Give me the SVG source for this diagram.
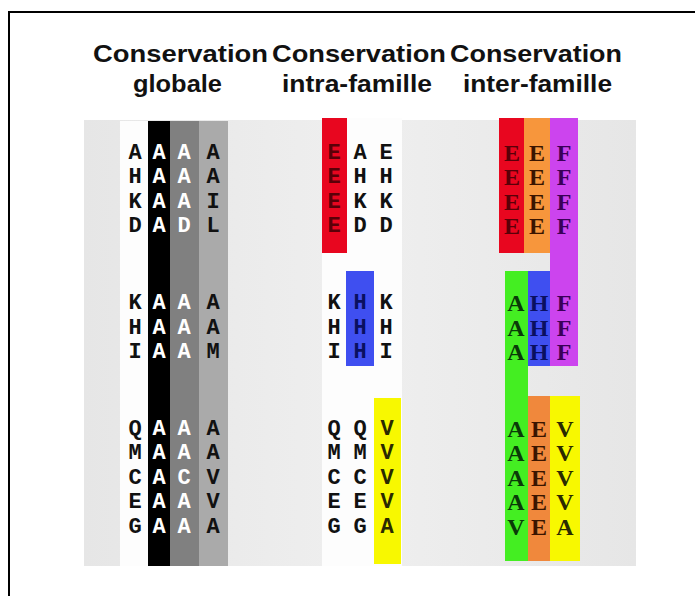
<svg xmlns="http://www.w3.org/2000/svg" width="695" height="596" viewBox="0 0 695 596">
  <style>
    .title { font-family: "Liberation Sans", Arial, sans-serif; font-weight: bold; font-size: 24px; fill: #111; }
    .mono { font-family: "Courier New", "Liberation Mono", monospace; font-weight: bold; font-size: 22px; text-anchor: middle; }
    .serif { font-family: "Liberation Serif", "Times New Roman", serif; font-weight: bold; font-size: 24px; text-anchor: middle; }
    .k { fill: #111; }
    .w { fill: #fff; }
  </style>
  <defs>
    <linearGradient id="panel" x1="0" y1="0" x2="1" y2="0">
      <stop offset="0" stop-color="#e6e6e6"/>
      <stop offset="0.5" stop-color="#efefef"/>
      <stop offset="1" stop-color="#e6e6e6"/>
    </linearGradient>
  </defs>

  <rect x="0" y="0" width="695" height="596" fill="#fff"/>
  <!-- frame -->
  <path d="M9 596 V12 H695" fill="none" stroke="#000" stroke-width="2"/>

  <!-- headings -->
  <g id="titles">
    <text class="title" x="93" y="62" textLength="175" lengthAdjust="spacingAndGlyphs">Conservation</text>
    <text class="title" x="272" y="62" textLength="174" lengthAdjust="spacingAndGlyphs">Conservation</text>
    <text class="title" x="450" y="62" textLength="172" lengthAdjust="spacingAndGlyphs">Conservation</text>
    <text class="title" x="133" y="92" textLength="89" lengthAdjust="spacingAndGlyphs">globale</text>
    <text class="title" x="282" y="92" textLength="150" lengthAdjust="spacingAndGlyphs">intra-famille</text>
    <text class="title" x="463" y="92" textLength="149" lengthAdjust="spacingAndGlyphs">inter-famille</text>
  </g>

  <!-- background panel -->
  <rect x="84" y="120" width="552" height="446" fill="url(#panel)"/>

  <!-- global conservation -->
  <g id="globale">
    <rect x="120" y="121" width="28" height="445" fill="#fdfdfd"/>
    <rect x="148" y="121" width="22" height="445" fill="#000"/>
    <rect x="170" y="121" width="29" height="445" fill="#808080"/>
    <rect x="199" y="121" width="29" height="445" fill="#aaaaaa"/>
    <g class="mono">
      <text class="k" x="135" y="159">A</text><text class="w" x="159" y="159">A</text><text class="w" x="184" y="159">A</text><text class="k" x="213" y="159">A</text>
      <text class="k" x="135" y="183">H</text><text class="w" x="159" y="183">A</text><text class="w" x="184" y="183">A</text><text class="k" x="213" y="183">A</text>
      <text class="k" x="135" y="208">K</text><text class="w" x="159" y="208">A</text><text class="w" x="184" y="208">A</text><text class="k" x="213" y="208">I</text>
      <text class="k" x="135" y="232">D</text><text class="w" x="159" y="232">A</text><text class="w" x="184" y="232">D</text><text class="k" x="213" y="232">L</text>
      <text class="k" x="135" y="309">K</text><text class="w" x="159" y="309">A</text><text class="w" x="184" y="309">A</text><text class="k" x="213" y="309">A</text>
      <text class="k" x="135" y="334">H</text><text class="w" x="159" y="334">A</text><text class="w" x="184" y="334">A</text><text class="k" x="213" y="334">A</text>
      <text class="k" x="135" y="358">I</text><text class="w" x="159" y="358">A</text><text class="w" x="184" y="358">A</text><text class="k" x="213" y="358">M</text>
      <text class="k" x="135" y="435">Q</text><text class="w" x="159" y="435">A</text><text class="w" x="184" y="435">A</text><text class="k" x="213" y="435">A</text>
      <text class="k" x="135" y="459">M</text><text class="w" x="159" y="459">A</text><text class="w" x="184" y="459">A</text><text class="k" x="213" y="459">A</text>
      <text class="k" x="135" y="484">C</text><text class="w" x="159" y="484">A</text><text class="w" x="184" y="484">C</text><text class="k" x="213" y="484">V</text>
      <text class="k" x="135" y="508">E</text><text class="w" x="159" y="508">A</text><text class="w" x="184" y="508">A</text><text class="k" x="213" y="508">V</text>
      <text class="k" x="135" y="533">G</text><text class="w" x="159" y="533">A</text><text class="w" x="184" y="533">A</text><text class="k" x="213" y="533">A</text>
    </g>
  </g>

  <!-- intra-family conservation -->
  <g id="intra">
    <rect x="322" y="118" width="80" height="448" fill="#fdfdfd"/>
    <rect x="322" y="118" width="25" height="135" fill="#e8061f"/>
    <rect x="346" y="271" width="28" height="95" fill="#3f4ff0"/>
    <rect x="374" y="398" width="27" height="166" fill="#f8f800"/>
    <g class="mono">
      <text fill="#5a0008" x="334" y="159">E</text><text class="k" x="360" y="159">A</text><text class="k" x="386" y="159">E</text>
      <text fill="#5a0008" x="334" y="183">E</text><text class="k" x="360" y="183">H</text><text class="k" x="386" y="183">H</text>
      <text fill="#5a0008" x="334" y="208">E</text><text class="k" x="360" y="208">K</text><text class="k" x="386" y="208">K</text>
      <text fill="#5a0008" x="334" y="232">E</text><text class="k" x="360" y="232">D</text><text class="k" x="386" y="232">D</text>
      <text class="k" x="334" y="309">K</text><text fill="#0a1060" x="360" y="309">H</text><text class="k" x="386" y="309">K</text>
      <text class="k" x="334" y="334">H</text><text fill="#0a1060" x="360" y="334">H</text><text class="k" x="386" y="334">H</text>
      <text class="k" x="334" y="358">I</text><text fill="#0a1060" x="360" y="358">H</text><text class="k" x="386" y="358">I</text>
      <text class="k" x="334" y="435">Q</text><text class="k" x="360" y="435">Q</text><text fill="#2a2a00" x="387" y="435">V</text>
      <text class="k" x="334" y="459">M</text><text class="k" x="360" y="459">M</text><text fill="#2a2a00" x="387" y="459">V</text>
      <text class="k" x="334" y="484">C</text><text class="k" x="360" y="484">C</text><text fill="#2a2a00" x="387" y="484">V</text>
      <text class="k" x="334" y="508">E</text><text class="k" x="360" y="508">E</text><text fill="#2a2a00" x="387" y="508">V</text>
      <text class="k" x="334" y="533">G</text><text class="k" x="360" y="533">G</text><text fill="#2a2a00" x="387" y="533">A</text>
    </g>
  </g>

  <!-- inter-family conservation -->
  <g id="inter">
    <rect x="499" y="118" width="25" height="135" fill="#e8061f"/>
    <rect x="524" y="118" width="26" height="135" fill="#f7963c"/>
    <rect x="550" y="118" width="28" height="248" fill="#cc44ee"/>
    <rect x="505" y="271" width="23" height="290" fill="#44ee22"/>
    <rect x="528" y="271" width="22" height="95" fill="#3f4ff0"/>
    <rect x="528" y="396" width="22" height="165" fill="#f0883c"/>
    <rect x="550" y="396" width="30" height="165" fill="#f8f800"/>
    <g class="serif">
      <text fill="#5a0008" x="512" y="161">E</text><text fill="#3a1500" x="537" y="161">E</text><text fill="#3a0058" x="564" y="161">F</text>
      <text fill="#5a0008" x="512" y="185">E</text><text fill="#3a1500" x="537" y="185">E</text><text fill="#3a0058" x="564" y="185">F</text>
      <text fill="#5a0008" x="512" y="210">E</text><text fill="#3a1500" x="537" y="210">E</text><text fill="#3a0058" x="564" y="210">F</text>
      <text fill="#5a0008" x="512" y="234">E</text><text fill="#3a1500" x="537" y="234">E</text><text fill="#3a0058" x="564" y="234">F</text>
      <text fill="#0a3a08" x="516" y="311">A</text><text fill="#0a1060" x="539" y="311">H</text><text fill="#3a0058" x="564" y="311">F</text>
      <text fill="#0a3a08" x="516" y="336">A</text><text fill="#0a1060" x="539" y="336">H</text><text fill="#3a0058" x="564" y="336">F</text>
      <text fill="#0a3a08" x="516" y="360">A</text><text fill="#0a1060" x="539" y="360">H</text><text fill="#3a0058" x="564" y="360">F</text>
      <text fill="#0a3a08" x="516" y="437">A</text><text fill="#3a1500" x="539" y="437">E</text><text fill="#2a2a00" x="565" y="437">V</text>
      <text fill="#0a3a08" x="516" y="461">A</text><text fill="#3a1500" x="539" y="461">E</text><text fill="#2a2a00" x="565" y="461">V</text>
      <text fill="#0a3a08" x="516" y="486">A</text><text fill="#3a1500" x="539" y="486">E</text><text fill="#2a2a00" x="565" y="486">V</text>
      <text fill="#0a3a08" x="516" y="510">A</text><text fill="#3a1500" x="539" y="510">E</text><text fill="#2a2a00" x="565" y="510">V</text>
      <text fill="#0a3a08" x="516" y="535">V</text><text fill="#3a1500" x="539" y="535">E</text><text fill="#2a2a00" x="565" y="535">A</text>
    </g>
  </g>
</svg>
